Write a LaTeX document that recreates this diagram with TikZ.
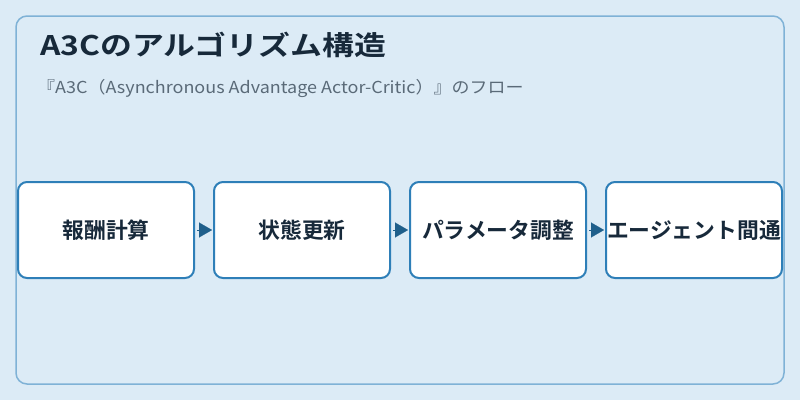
\documentclass[tikz,border=0pt]{standalone}
\usepackage{fontspec}
\setmainfont{Noto Sans CJK JP}
\newfontfamily\cjkbold{Noto Sans CJK JP Bold}
\newfontfamily\cjktitle[FakeStretch=1.18]{Noto Sans CJK JP Bold}
\newfontfamily\cjksub[FakeStretch=1.09]{Noto Sans CJK JP}
\usetikzlibrary{arrows.meta}
\definecolor{bgc}{RGB}{220,235,246}
\definecolor{panelc}{RGB}{127,178,214}
\definecolor{boxc}{RGB}{46,127,184}
\definecolor{arrc}{RGB}{31,95,139}
\definecolor{titlec}{RGB}{23,41,58}
\definecolor{subc}{RGB}{90,106,120}
\tikzset{
  stepbox/.style={draw=boxc, line width=2pt, fill=white, rounded corners=9pt,
    minimum width=176pt, minimum height=96pt, inner sep=0pt, outer sep=0pt,
    text=titlec, font=\cjkbold\fontsize{21.8}{24}\selectfont},
  flow/.style={arrc, -{Triangle[length=13pt,width=15pt]}, line width=0.1pt,
    shorten <=3pt, shorten >=2pt}
}
\begin{document}
\begin{tikzpicture}[x=1pt,y=-1pt]
\useasboundingbox (0,0) rectangle (800,400);
\fill[bgc] (0,0) rectangle (800,400);
\draw[panelc, line width=1.5pt, rounded corners=11pt, fill=bgc] (16,16) rectangle (784,384);
\node[anchor=base west, inner sep=0pt, text=titlec, font=\cjktitle\fontsize{27}{32}\selectfont] (title) at (40,55.5) {A3Cのアルゴリズム構造};
\node[anchor=base west, inner sep=0pt, text=subc, font=\cjksub\fontsize{16.5}{18}\selectfont] (sub) at (37,93) {『A3C（Asynchronous Advantage Actor-Critic）』のフロー};
\node[stepbox] (b1) at (106,230) {報酬計算};
\node[stepbox] (b2) at (302,230) {状態更新};
\node[stepbox] (b3) at (498,230) {パラメータ調整};
\node[stepbox] (b4) at (694,230) {エージェント間通};
\draw[flow] (b1.east) -- (b2.west);
\draw[flow] (b2.east) -- (b3.west);
\draw[flow] (b3.east) -- (b4.west);
\end{tikzpicture}
\end{document}
